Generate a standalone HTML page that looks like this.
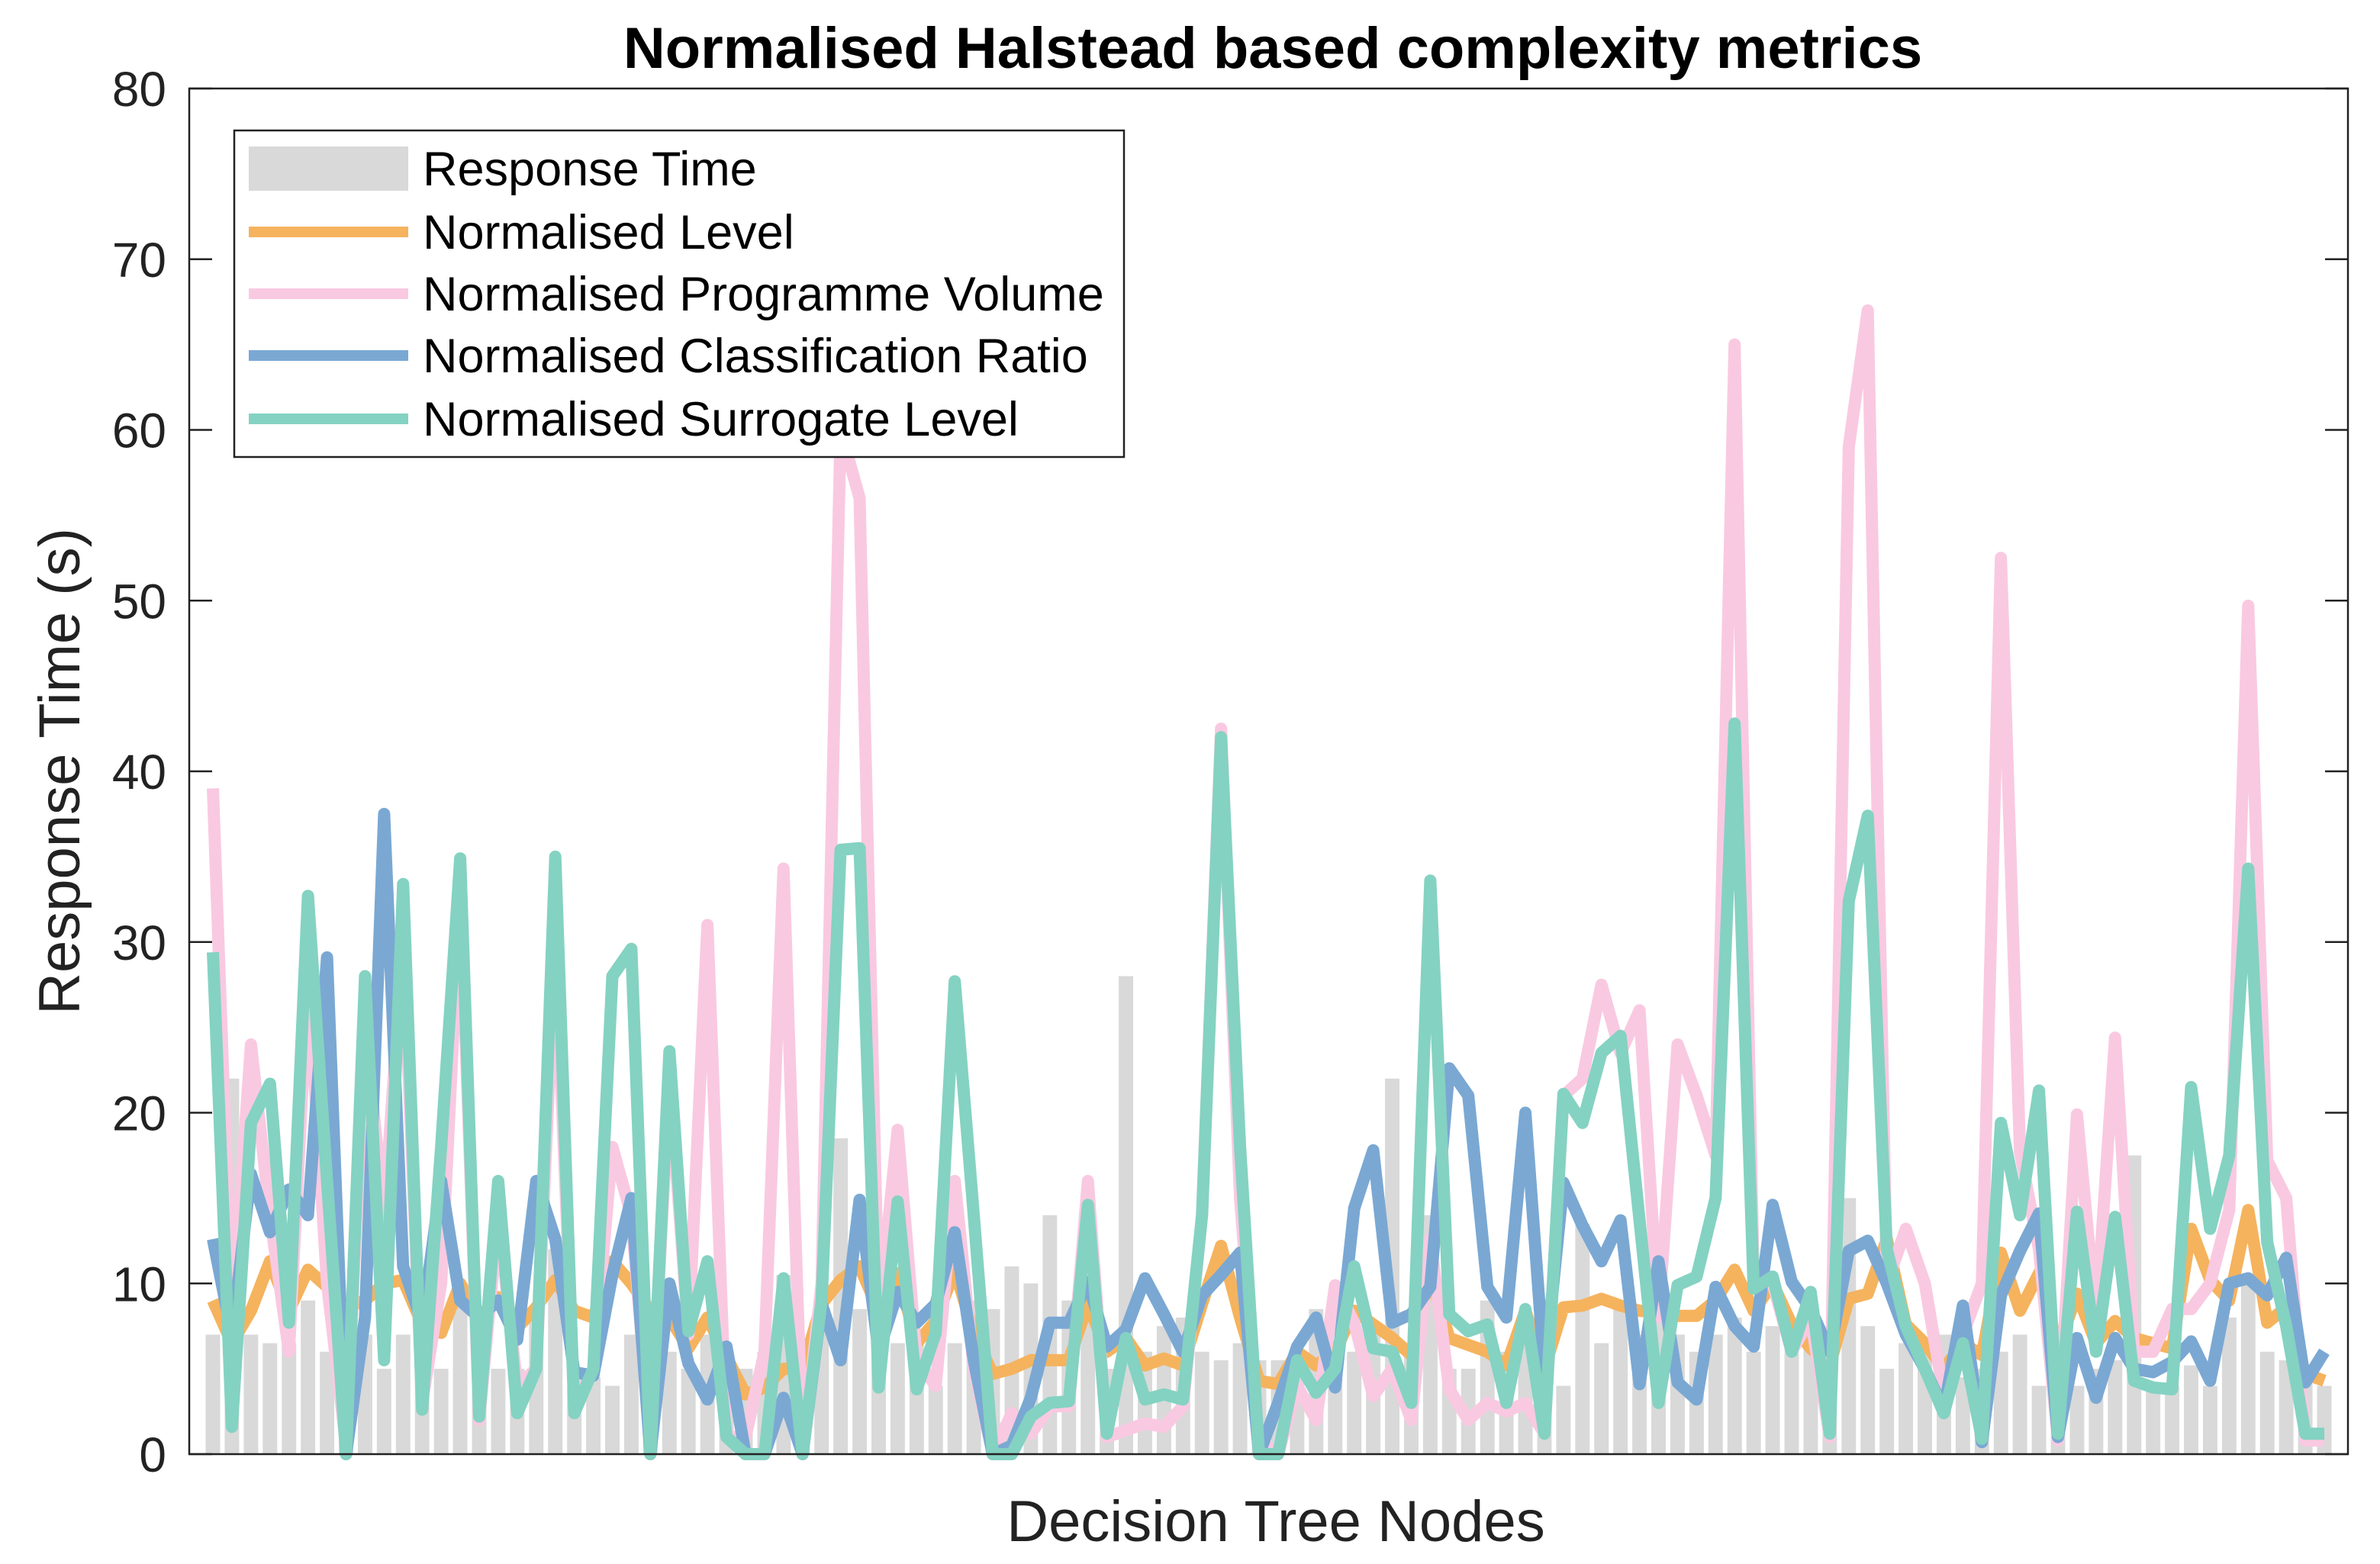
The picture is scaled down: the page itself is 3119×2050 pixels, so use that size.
<!DOCTYPE html>
<html><head><meta charset="utf-8"><style>
html,body{margin:0;padding:0;background:#fff;}
svg{display:block;font-family:"Liberation Sans",Arial,sans-serif;}
</style></head><body>
<svg id="chart" width="3119" height="2050" viewBox="0 0 3119 2050" xmlns="http://www.w3.org/2000/svg">
<rect x="0" y="0" width="3119" height="2050" fill="#fff"/>
<text x="1668" y="89" text-anchor="middle" font-size="76" font-weight="bold" fill="#000">Normalised Halstead based complexity metrics</text>
<g id="plot"></g>
<text x="1672" y="2020" text-anchor="middle" font-size="76" fill="#222">Decision Tree Nodes</text>
<text x="0" y="0" transform="translate(104,1011) rotate(-90)" text-anchor="middle" font-size="76" fill="#222">Response Time (s)</text>
<g id="legend">
<rect x="307" y="171" width="1166" height="428" fill="#fff" stroke="#222" stroke-width="2.5"/>
<rect x="326" y="192" width="209" height="58" fill="#d9d9d9"/>
<text x="554" y="243" font-size="63" fill="#000">Response Time</text>
<line x1="326" y1="304" x2="535" y2="304" stroke="#f5b35e" stroke-width="14"/>
<text x="554" y="326" font-size="63" fill="#000">Normalised Level</text>
<line x1="326" y1="385" x2="535" y2="385" stroke="#f9c9e1" stroke-width="14"/>
<text x="554" y="407" font-size="63" fill="#000">Normalised Programme Volume</text>
<line x1="326" y1="466" x2="535" y2="466" stroke="#7aa8d3" stroke-width="14"/>
<text x="554" y="488" font-size="63" fill="#000">Normalised Classification Ratio</text>
<line x1="326" y1="549" x2="535" y2="549" stroke="#84d2c2" stroke-width="14"/>
<text x="554" y="571" font-size="63" fill="#000">Normalised Surrogate Level</text>
</g>
</svg>
<script>
const yTicks = [0,10,20,30,40,50,60,70,80];
const responseTime = [7,22,7,6.5,6.5,9,6,7,7,5,7,6,5,9,6,5,5,8.5,12,4,4.5,4,7,6,6,5,7,6,
5,6,10.5,5,8,18.5,8.5,7,6.5,7,4,6.5,9,8.5,11,10,14,9,8,5,28,6,7.5,8,6,5.5,6.5,5.5,
5.5,6,8.5,5,6,7,22,6,14,5,5,9,6,7,5,4,13.5,6.5,9,7,8,7,6,7,8,6,7.5,7,8,
6,15,7.5,5,6.5,6,7,4.5,5,6,7,4,6,4,5,5.5,17.5,4,4,5.2,4,8,10,6,5.5,5,4];
const normLevel = [9,6.5,8.4,11.3,8.4,10.8,9.8,8.6,9,10,10.2,7.6,7.1,10,8,9.2,7.4,8.6,10.2,8.4,8,11.3,10,8.4,8,6.2,8,5.7,
3.5,3.9,5,5,8.8,10.2,11,8.4,10.6,6.5,7.8,10.8,7.1,4.7,5,5.5,5.5,5.5,8.8,6,6.8,5.2,5.6,5.2,8.8,12.2,8,4.3,
4.1,6,5.2,6,8.4,7.6,6.8,5.8,10.6,6.8,6.4,6,5.2,8.4,5,8.6,8.7,9.1,8.7,8.4,8.3,8.1,8.1,9,10.8,8.4,10,7.6,6.2,
5.2,9.1,9.4,12.6,7.6,6.5,5,6.5,5.8,11.8,8.4,10.6,6.2,9.4,6.5,7.8,6.8,6.5,6.2,13.2,10.2,9,14.3,7.7,8.6,4.7,4.3];
const progVolume = [39,8,24,14,6,28,10,0.5,25,14,30,3,10,33,2,14,4,5,30,3,5,18,14,0.5,22,7,31,1,
1,6,34.3,0,10,60,56,8,19,5.5,4,16,5,0,2.4,1.2,2.8,2.8,16,1,1.4,1.8,1.6,2.8,14,42.5,15,0.8,
0,4,2,9.9,7.7,3.4,5,2,12.6,3.8,2,3,2.5,3,1.2,21,22,27.5,23.5,26,8,24,21,17.5,65,10,10,6,8,
1,59,67,10,13.2,10,3.4,7,10,52.5,17.7,12,0.8,19.9,7.8,24.4,6,6,8.5,8.5,10,14.3,49.7,17.2,15,0.8,0.8];
const classRatio = [12.6,7,16.4,13,15.5,14,29.1,0,8,37.5,11,7.7,16,9,8,9,6.7,16,12.6,4.8,4.6,10.5,15,0,10,5.3,3.2,6.3,
0,0,3.3,0,8.8,5.5,14.9,6,9.5,7.7,8.8,13,5.5,0,0.5,3.3,7.7,7.7,10.1,6.3,7.3,10.3,8.2,6,9.3,10.5,11.8,0,
3,6.3,8,3.9,14.4,17.8,7.7,8.2,9.8,22.6,21,9.8,8,20,4.8,15.9,13.4,11.3,13.7,4.1,11.3,4.2,3.2,9.8,7.5,6.3,14.6,10.1,8.5,
6,11.9,12.5,10,7,5,2.6,8.7,0.7,9.3,11.9,14.1,1,6.8,3.3,6.8,5,4.8,5.4,6.6,4.3,10,10.3,9.3,11.5,4.2,6];
const surrogateLevel = [29.4,1.6,19.4,21.7,7.7,32.7,16,0,28,5.5,33.4,2.6,18,34.9,2.2,16,2.4,5,35,2.4,5,28,29.6,0,23.6,7.2,11.3,1,
0,0,10.3,0,9,35.4,35.5,3.9,14.8,3.8,7.1,27.7,14,0,0,2.2,3,3.1,14.6,1.2,6.8,3.2,3.5,3.2,14,42,18,0,
0,5.5,3.6,5,11,6.2,6,3,33.6,8.2,7.2,7.6,3,8.5,1.2,21.1,19.4,23.5,24.5,13.7,3,9.9,10.4,15,42.8,9.7,10.4,6,9.5,
1.2,32.4,37.4,12,7.5,5,2.4,6.5,0.9,19.4,14,21.3,1.2,14.2,6,13.9,4.3,3.9,3.8,21.5,13.2,17.5,34.3,12.4,7.5,1.2,1.2];

const NS='http://www.w3.org/2000/svg';
const L=248,R=3077,T=116,B=1906,YMAX=80;
const N=responseTime.length;
const pitch=(R-L-62)/(N-1);
function xPos(i){return L+31+i*pitch;}
function yPos(v){return B-(v/YMAX)*(B-T);}
const plot=document.getElementById('plot');
function mk(tag,attrs){const e=document.createElementNS(NS,tag);for(const k in attrs)e.setAttribute(k,attrs[k]);return e;}

const bw=pitch*0.76;
responseTime.forEach((v,i)=>{
  const r=mk('rect',{x:xPos(i)-bw/2,y:yPos(v),width:bw,height:B-yPos(v),fill:'#d9d9d9'});
  
  
  plot.appendChild(r);
});
const series=[[normLevel,'#f5b35e','normalised-level-line'],[progVolume,'#f9c9e1','normalised-programme-volume-line'],[classRatio,'#7aa8d3','normalised-classification-ratio-line'],[surrogateLevel,'#84d2c2','normalised-surrogate-level-line']];
series.forEach(s=>{
  const pts=s[0].map((v,i)=>xPos(i).toFixed(1)+','+yPos(v).toFixed(1)).join(' ');
  const p=mk('polyline',{points:pts,fill:'none',stroke:s[1],'stroke-width':16,'stroke-linejoin':'round','stroke-linecap':'butt'});
  
  
  plot.appendChild(p);
});
const box=mk('rect',{x:L,y:T,width:R-L,height:B-T,fill:'none',stroke:'#222','stroke-width':2.5});


plot.appendChild(box);
yTicks.forEach(t=>{
  const y=yPos(t);
  const a=mk('line',{x1:L,y1:y,x2:L+30,y2:y,stroke:'#222','stroke-width':2.5});
  
  
  plot.appendChild(a);
  const b=mk('line',{x1:R-30,y1:y,x2:R,y2:y,stroke:'#222','stroke-width':2.5});
  
  
  plot.appendChild(b);
  const tx=mk('text',{x:218,y:y+23,'text-anchor':'end','font-size':64,fill:'#222'});
  tx.textContent=String(t);
  
  
  plot.appendChild(tx);
});
</script>
</body></html>
